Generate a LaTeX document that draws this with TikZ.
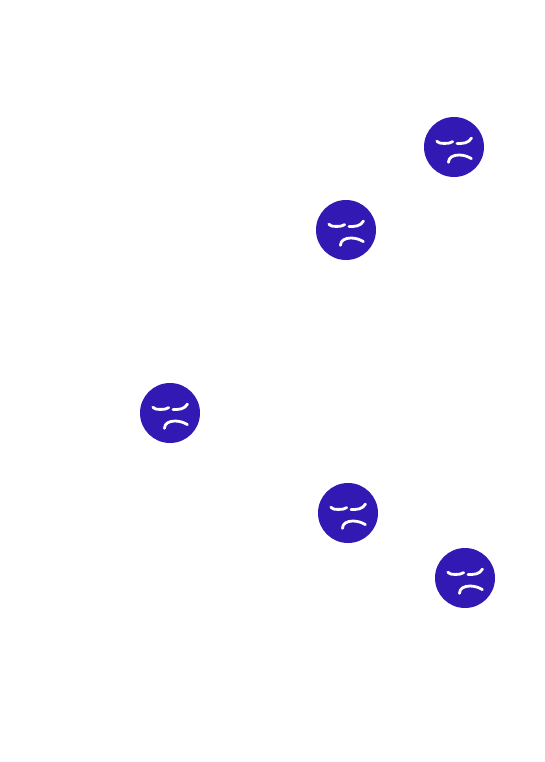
\documentclass[tikz,border=0pt]{standalone}
\definecolor{facefill}{HTML}{3219B4}
\tikzset{
  facedisc/.style={circle,fill=facefill,draw=none,minimum size=60pt,inner sep=0pt},
  featureline/.style={draw=white,line width=2.8pt,line cap=round,line join=round},
  pics/sadface/.style={code={
    \node[facedisc] (-disc) at (0,0) {};
    \draw[featureline] (-17.2,-5.8) .. controls (-16,-4.2) and (-14,-3.6) .. (-10,-3.6) .. controls (-6,-3.6) and (-3,-3.9) .. (-1.3,-5.4);
    \draw[featureline] (3,-3.4) .. controls (6,-3.5) and (9,-3.6) .. (11.5,-4.2) .. controls (14,-4.8) and (16,-6.5) .. (17.5,-9);
    \draw[featureline] (-5.6,15.4) .. controls (-5.4,10.5) and (-1,8) .. (5,8) .. controls (9.5,8) and (14,9.5) .. (17.4,11.6);
  }}
}
\begin{document}
\begin{tikzpicture}[x=1pt,y=-1pt]
\useasboundingbox (0,0) rectangle (545,762);
\fill[white] (0,0) rectangle (545,762);
\pic (f1) at (454,147) {sadface};
\pic (f2) at (346,230) {sadface};
\pic (f3) at (170,413) {sadface};
\pic (f4) at (348,513) {sadface};
\pic (f5) at (465,578) {sadface};
\end{tikzpicture}
\end{document}
